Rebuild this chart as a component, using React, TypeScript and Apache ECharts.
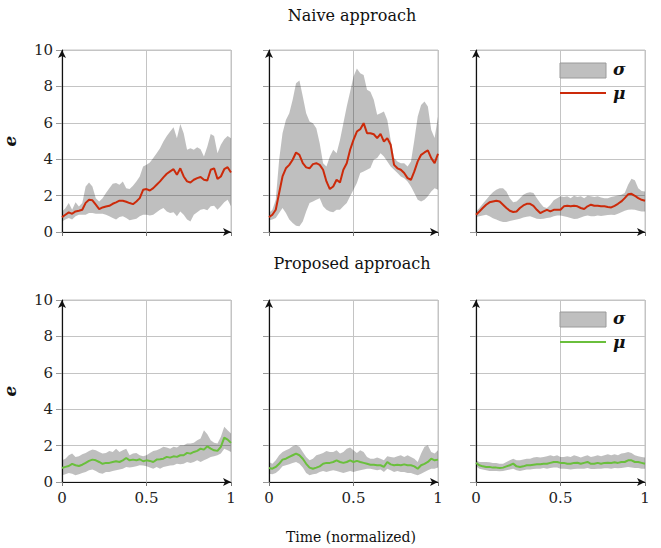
import React, { useEffect, useRef } from "react";
import * as echarts from "echarts";

// Normalized time samples (shared by all panels)
const timeX = [0, 0.02, 0.04, 0.06, 0.08, 0.1, 0.12, 0.14, 0.16, 0.18, 0.2, 0.22, 0.24, 0.26, 0.28, 0.3, 0.32, 0.34, 0.36, 0.38, 0.4, 0.42, 0.44, 0.46, 0.48, 0.5, 0.52, 0.54, 0.56, 0.58, 0.6, 0.62, 0.64, 0.66, 0.68, 0.7, 0.72, 0.74, 0.76, 0.78, 0.8, 0.82, 0.84, 0.86, 0.88, 0.9, 0.92, 0.94, 0.96, 0.98, 1];

// Naive approach, panel 1
const naive1Mu = [0.82,0.95,1.08,1.0,1.13,1.17,1.22,1.6,1.77,1.74,1.5,1.26,1.35,1.4,1.44,1.55,1.63,1.72,1.72,1.66,1.59,1.53,1.68,1.86,2.32,2.36,2.28,2.41,2.6,2.78,3.0,3.2,3.33,3.45,3.14,3.5,3.05,2.78,2.72,2.87,2.96,3.02,2.87,2.83,3.42,3.5,2.92,3.05,3.45,3.56,3.27];
const naive1Hi = [1.13,1.3,1.6,1.22,1.63,1.4,1.6,2.5,2.72,2.5,1.86,1.68,1.86,2.14,2.41,2.65,2.69,2.6,2.78,2.41,2.36,2.54,2.78,3.05,3.6,3.7,3.82,4.06,4.33,4.6,4.97,5.28,5.52,5.76,5.15,5.94,5.43,4.52,4.6,4.52,4.66,4.55,4.15,4.7,5.39,5.28,4.33,4.79,5.1,5.28,5.15];
const naive1Lo = [0.58,0.68,0.77,0.68,0.86,0.95,0.95,0.95,1.04,1.04,1.0,1.0,1.0,0.95,0.86,0.77,0.68,0.82,0.86,0.77,0.64,0.68,0.73,0.86,0.95,0.95,0.91,0.95,1.08,1.22,1.32,1.13,1.04,1.08,0.86,1.13,0.95,0.68,0.58,0.95,1.08,1.22,1.26,1.19,1.41,1.44,1.22,1.41,1.63,1.77,1.41];

// Naive approach, panel 2
const naive2Mu = [0.82,0.95,1.22,2.14,3.05,3.5,3.69,3.97,4.37,4.24,3.78,3.55,3.5,3.73,3.78,3.69,3.42,2.78,2.36,2.5,2.87,2.72,3.42,3.78,4.52,5.06,5.52,5.65,5.98,5.43,5.43,5.37,5.16,5.39,4.97,5.16,4.79,3.69,3.5,3.42,3.24,2.96,2.87,3.33,3.88,4.24,4.37,4.48,4.06,3.78,4.3];
const naive2Hi = [1.04,1.22,1.77,3.97,5.43,6.16,6.53,7.26,8.17,8.32,7.44,6.53,6.07,5.98,5.7,4.88,3.78,3.6,4.15,4.52,4.33,5.06,5.98,6.89,7.71,8.54,8.99,8.72,8.63,7.81,7.71,7.26,6.44,6.53,6.62,6.16,5.06,4.06,3.88,3.78,3.78,3.6,3.88,5.06,6.34,6.98,7.17,6.89,5.61,5.16,6.34];
const naive2Lo = [0.64,0.68,0.77,1.04,1.32,1.04,0.68,0.49,0.35,0.31,0.58,1.13,1.59,1.68,1.77,1.86,1.41,1.22,1.13,1.08,1.22,1.22,1.41,1.59,1.96,2.32,2.69,3.24,3.33,3.42,3.51,3.97,4.06,4.33,4.15,3.88,3.6,3.42,3.24,3.05,2.96,2.78,2.5,2.14,1.77,1.68,1.77,1.96,2.23,2.41,2.32];

// Naive approach, panel 3
const naive3Mu = [0.95,1.13,1.32,1.5,1.63,1.68,1.72,1.68,1.5,1.32,1.17,1.1,1.13,1.32,1.46,1.55,1.55,1.44,1.22,1.04,1.13,1.22,1.13,1.22,1.22,1.22,1.41,1.44,1.41,1.44,1.41,1.32,1.26,1.41,1.5,1.44,1.44,1.41,1.41,1.37,1.35,1.44,1.55,1.68,1.86,2.07,2.1,1.99,1.86,1.77,1.72];
const naive3Hi = [1.13,1.32,1.55,1.77,1.99,2.18,2.32,2.41,2.4,2.23,1.86,1.63,1.68,1.86,2.05,2.14,2.18,2.14,1.86,1.59,1.37,1.32,1.5,1.74,1.86,1.96,1.92,1.96,1.86,1.99,1.92,1.96,1.86,1.99,1.96,1.92,1.96,1.9,1.86,1.86,1.92,1.96,2.0,2.05,2.14,2.6,2.92,2.85,2.4,2.25,2.23];
const naive3Lo = [0.82,0.86,0.9,0.95,0.86,0.75,0.68,0.6,0.55,0.55,0.6,0.64,0.68,0.73,0.8,0.84,0.86,0.8,0.73,0.71,0.73,0.77,0.8,0.86,0.9,0.9,0.86,0.82,0.77,0.71,0.73,0.8,0.86,0.9,0.86,0.86,0.9,0.88,0.9,0.93,0.95,0.93,1.0,1.08,1.17,1.22,1.24,1.22,1.17,1.13,1.13];

// Proposed approach, panel 1
const prop1Mu = [0.77,0.83,0.88,1.0,0.92,0.88,0.95,1.05,1.16,1.23,1.19,1.1,1.0,1.05,1.05,1.1,1.14,1.1,1.19,1.32,1.19,1.23,1.19,1.25,1.14,1.19,1.16,1.1,1.23,1.25,1.28,1.38,1.34,1.41,1.38,1.47,1.47,1.6,1.56,1.65,1.71,1.83,1.78,1.96,1.83,1.74,1.71,1.93,2.44,2.33,2.15];
const prop1Hi = [1.19,1.28,1.47,1.56,1.38,1.41,1.52,1.6,1.71,1.78,1.74,1.65,1.56,1.6,1.71,1.65,1.83,1.65,1.74,1.83,1.47,1.56,1.6,1.47,1.41,1.47,1.6,1.71,1.74,1.83,1.93,1.89,1.83,1.93,1.89,2.02,2.02,2.11,2.11,2.15,2.29,2.39,2.84,2.62,2.29,2.15,2.11,2.48,3.03,2.84,2.66];
const prop1Lo = [0.37,0.42,0.5,0.46,0.37,0.42,0.5,0.55,0.64,0.68,0.61,0.5,0.46,0.55,0.55,0.61,0.64,0.68,0.73,0.83,0.79,0.83,0.86,0.92,0.9,0.86,0.79,0.73,0.83,0.73,0.83,0.86,0.9,0.92,1.0,0.97,1.0,1.1,1.05,1.1,1.19,1.1,1.19,1.28,1.38,1.41,1.47,1.56,1.83,1.74,1.65];

// Proposed approach, panel 2
const prop2Mu = [0.77,0.73,0.83,1.0,1.23,1.28,1.38,1.47,1.56,1.47,1.28,1.0,0.79,0.73,0.79,0.86,1.0,1.05,1.05,1.1,1.19,1.1,1.05,1.1,1.19,1.1,1.16,1.1,1.05,1.0,0.95,0.95,0.92,0.92,0.83,1.1,0.97,0.92,0.95,0.92,0.97,0.92,0.92,0.86,0.73,0.92,1.0,1.1,1.28,1.19,1.23];
const prop2Hi = [1.1,1.0,1.19,1.47,1.65,1.74,1.83,1.96,2.02,1.93,1.65,1.38,1.19,1.28,1.47,1.52,1.6,1.71,1.65,1.65,1.74,1.56,1.65,1.83,1.89,1.74,1.6,1.74,1.65,1.38,1.28,1.28,1.34,1.28,1.19,1.41,1.38,1.34,1.41,1.47,1.38,1.47,1.38,1.28,1.1,1.56,1.93,2.02,1.65,1.56,1.74];
const prop2Lo = [0.46,0.42,0.5,0.64,0.86,0.92,0.97,1.05,1.1,1.0,0.79,0.5,0.37,0.42,0.46,0.55,0.61,0.55,0.61,0.64,0.61,0.55,0.5,0.55,0.61,0.55,0.61,0.64,0.68,0.73,0.73,0.68,0.64,0.68,0.55,0.73,0.64,0.55,0.61,0.55,0.55,0.5,0.5,0.42,0.37,0.46,0.55,0.64,0.73,0.73,0.79];

// Proposed approach, panel 3
const prop3Mu = [1.05,0.92,0.86,0.83,0.83,0.79,0.79,0.77,0.79,0.86,0.92,1.01,0.86,0.83,0.86,0.92,0.92,0.95,0.97,0.97,1.0,1.0,1.05,1.1,1.1,1.05,1.05,1.0,1.0,1.05,1.06,1.0,1.05,1.1,1.0,1.0,1.05,1.0,1.05,1.06,1.05,1.08,1.05,1.1,1.1,1.19,1.19,1.1,1.1,1.05,1.0];
const prop3Hi = [1.19,1.1,1.1,1.1,1.08,1.05,1.05,1.0,1.0,1.1,1.19,1.28,1.19,1.19,1.23,1.28,1.28,1.34,1.38,1.34,1.38,1.41,1.47,1.41,1.47,1.38,1.38,1.41,1.38,1.47,1.41,1.34,1.41,1.47,1.38,1.41,1.47,1.41,1.47,1.52,1.47,1.52,1.47,1.56,1.6,1.65,1.6,1.47,1.41,1.38,1.34];
const prop3Lo = [0.86,0.73,0.68,0.64,0.61,0.61,0.61,0.59,0.61,0.64,0.68,0.73,0.64,0.61,0.64,0.68,0.68,0.72,0.73,0.73,0.77,0.73,0.77,0.79,0.79,0.73,0.73,0.72,0.68,0.72,0.73,0.73,0.73,0.77,0.72,0.72,0.73,0.73,0.75,0.75,0.73,0.77,0.75,0.77,0.79,0.83,0.79,0.77,0.77,0.73,0.73];

const rowTitles = ["Naive approach", "Proposed approach"];
const xAxisTitle = "Time (normalized)";
const yAxisTitle = "e";
const legendLabels = ["σ", "μ"];

const panels = [
  { mu: naive1Mu, hi: naive1Hi, lo: naive1Lo },
  { mu: naive2Mu, hi: naive2Hi, lo: naive2Lo },
  { mu: naive3Mu, hi: naive3Hi, lo: naive3Lo },
  { mu: prop1Mu, hi: prop1Hi, lo: prop1Lo },
  { mu: prop2Mu, hi: prop2Hi, lo: prop2Lo },
  { mu: prop3Mu, hi: prop3Hi, lo: prop3Lo },
];

const RED = "#cc2a0a";
const GREEN = "#6abf3c";
const BAND = "rgba(0,0,0,0.25)";
const GRIDC = "#c4c4c4";
const SERIF = "DejaVu Serif";

const colLeft = [62, 269, 476];
const rowTop = [50, 300];
const PW = 169;
const PH = 182;

function buildOption() {
  const grid: any[] = [];
  const xAxis: any[] = [];
  const yAxis: any[] = [];
  const series: any[] = [];
  panels.forEach((p, i) => {
    const row = Math.floor(i / 3);
    const col = i % 3;
    const color = row === 0 ? RED : GREEN;
    grid.push({
      left: colLeft[col],
      top: rowTop[row],
      width: PW,
      height: PH,
      show: true,
      borderColor: GRIDC,
      borderWidth: 1,
      backgroundColor: "transparent",
    });
    const axisLine = {
      show: true,
      symbol: ["none", "arrow"],
      symbolSize: [6, 8],
      lineStyle: { color: "#111", width: 1.2 },
    };
    xAxis.push({
      gridIndex: i,
      type: "value",
      min: 0,
      max: 1,
      interval: 0.5,
      axisLine,
      axisTick: { show: true, length: 4, lineStyle: { color: "#777" } },
      axisLabel: {
        show: row === 1,
        margin: 8,
        fontFamily: SERIF,
        fontSize: 15,
        color: "#222",
      },
      splitLine: { show: true, lineStyle: { color: GRIDC, width: 1 } },
    });
    yAxis.push({
      gridIndex: i,
      type: "value",
      min: 0,
      max: 10,
      interval: 2,
      axisLine,
      axisTick: { show: true, length: 6, lineStyle: { color: "#999" } },
      axisLabel: {
        show: col === 0,
        margin: 9,
        fontFamily: SERIF,
        fontSize: 15,
        color: "#222",
      },
      splitLine: { show: true, lineStyle: { color: GRIDC, width: 1 } },
      name: col === 0 ? yAxisTitle : "",
      nameLocation: "middle",
      nameRotate: 90,
      nameGap: 44,
      nameTextStyle: {
        fontFamily: SERIF,
        fontStyle: "italic",
        fontWeight: "bold",
        fontSize: 17,
        color: "#111",
      },
    });
    // σ band drawn as a polygon through the panel's own axes
    series.push({
      type: "custom",
      xAxisIndex: i,
      yAxisIndex: i,
      silent: true,
      clip: true,
      data: [[0, 0]],
      renderItem: (_params: any, api: any) => {
        const upper = timeX.map((x, k) => api.coord([x, p.hi[k]]));
        const lower = timeX.map((x, k) => api.coord([x, p.lo[k]])).reverse();
        return {
          type: "polygon",
          shape: { points: upper.concat(lower) },
          style: { fill: BAND, stroke: "none" },
        };
      },
      z: 2,
    });
    series.push({
      type: "line",
      xAxisIndex: i,
      yAxisIndex: i,
      symbol: "none",
      lineStyle: { color, width: 2 },
      data: timeX.map((x, k) => [x, p.mu[k]]),
      z: 5,
    });
  });

  const graphic: any[] = [];
  const titleYs = [15, 263];
  rowTitles.forEach((t, r) => {
    graphic.push({
      type: "text",
      x: 352,
      y: titleYs[r],
      style: {
        text: t,
        fontFamily: SERIF,
        fontSize: 16,
        fill: "#111",
        align: "center",
        verticalAlign: "middle",
      },
    });
  });
  graphic.push({
    type: "text",
    x: 351,
    y: 537,
    style: {
      text: xAxisTitle,
      fontFamily: SERIF,
      fontSize: 14,
      fill: "#111",
      align: "center",
      verticalAlign: "middle",
    },
  });
  // legends in right-hand panels
  const legendTops = [63, 312];
  legendTops.forEach((ly, r) => {
    const color = r === 0 ? RED : GREEN;
    graphic.push({
      type: "rect",
      shape: { x: 560, y: ly, width: 46, height: 15 },
      style: { fill: "#bfbfbf", stroke: "#9a9a9a", lineWidth: 1 },
      z: 10,
    });
    graphic.push({
      type: "text",
      x: 613,
      y: ly + 6,
      style: {
        text: legendLabels[0],
        fontFamily: SERIF,
        fontStyle: "italic",
        fontWeight: "bold",
        fontSize: 17,
        fill: "#111",
        align: "left",
        verticalAlign: "middle",
      },
      z: 10,
    });
    graphic.push({
      type: "line",
      shape: { x1: 560, y1: ly + 30, x2: 606, y2: ly + 30 },
      style: { stroke: color, lineWidth: 2 },
      z: 10,
    });
    graphic.push({
      type: "text",
      x: 613,
      y: ly + 30,
      style: {
        text: legendLabels[1],
        fontFamily: SERIF,
        fontStyle: "italic",
        fontWeight: "bold",
        fontSize: 17,
        fill: "#111",
        align: "left",
        verticalAlign: "middle",
      },
      z: 10,
    });
  });

  return {
    animation: false,
    backgroundColor: "#ffffff",
    grid,
    xAxis,
    yAxis,
    series,
    graphic,
  };
}

export default function App() {
  const ref = useRef<HTMLDivElement>(null);
  useEffect(() => {
    document.body.style.margin = "0";
    if (!ref.current) return;
    const chart = echarts.init(ref.current, null, { renderer: "svg" });
    chart.setOption(buildOption() as any);
    return () => {
      chart.dispose();
    };
  }, []);
  return <div ref={ref} style={{ width: 661, height: 548 }} />;
}
